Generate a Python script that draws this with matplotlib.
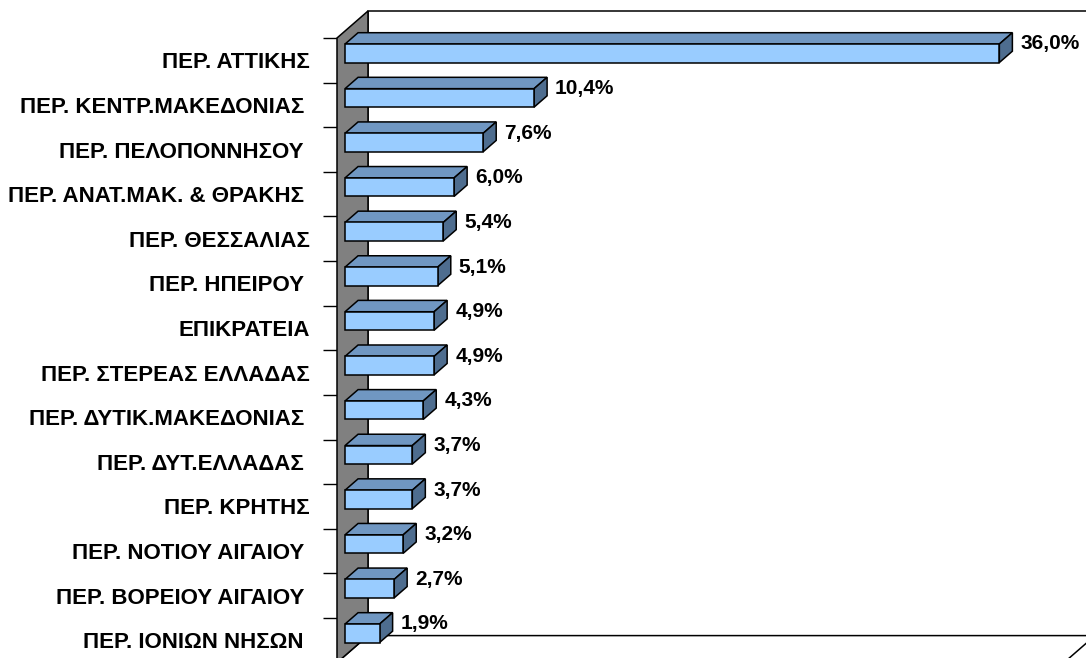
import matplotlib
matplotlib.use("Agg")
import matplotlib.pyplot as plt
import numpy as np
from matplotlib.patches import Polygon

# ===== Data =====
REGIONS = [
    "ΠΕΡ. ΑΤΤΙΚΗΣ",
    "ΠΕΡ. ΚΕΝΤΡ.ΜΑΚΕΔΟΝΙΑΣ ",
    "ΠΕΡ. ΠΕΛΟΠΟΝΝΗΣΟΥ ",
    "ΠΕΡ. ΑΝΑΤ.ΜΑΚ. & ΘΡΑΚΗΣ ",
    "ΠΕΡ. ΘΕΣΣΑΛΙΑΣ",
    "ΠΕΡ. ΗΠΕΙΡΟΥ ",
    "ΕΠΙΚΡΑΤΕΙΑ",
    "ΠΕΡ. ΣΤΕΡΕΑΣ ΕΛΛΑΔΑΣ",
    "ΠΕΡ. ΔΥΤΙΚ.ΜΑΚΕΔΟΝΙΑΣ ",
    "ΠΕΡ. ΔΥΤ.ΕΛΛΑΔΑΣ ",
    "ΠΕΡ. ΚΡΗΤΗΣ",
    "ΠΕΡ. ΝΟΤΙΟΥ ΑΙΓΑΙΟΥ ",
    "ΠΕΡ. ΒΟΡΕΙΟΥ ΑΙΓΑΙΟΥ ",
    "ΠΕΡ. ΙΟΝΙΩΝ ΝΗΣΩΝ ",
]
VALUES = [36.0, 10.4, 7.6, 6.0, 5.4, 5.1, 4.9, 4.9, 4.3, 3.7, 3.7, 3.2, 2.7, 1.9]
VALUE_LABELS = [f"{v:.1f}".replace(".", ",") + "%" for v in VALUES]
XMAX = 40

# ===== Style =====
FRONT = "#99CCFF"
TOP = "#7097C2"
SIDE = "#4E6D8F"
WALL = "#808080"

plt.rcParams["font.family"] = ["Liberation Sans", "DejaVu Sans"]

W, H = 1086, 658
fig = plt.figure(figsize=(W / 100, H / 100), dpi=100)

# front plane of the 3D box (pixels)
left, right, top, bottom = 337, 1064, 38, 662.6
ax = fig.add_axes([left / W, 1 - bottom / H, (right - left) / W, (bottom - top) / H])
n = len(VALUES)
ax.set_xlim(0, XMAX)
ax.set_ylim(n - 0.5, -0.5)
ax.patch.set_visible(False)
for s in ax.spines.values():
    s.set_visible(False)

# depth of the box in data units (31 px right, 27 px up)
px_x = (right - left) / XMAX
px_y = (bottom - top) / n
DX = 31 / px_x
DY = -27 / px_y

y0, y1 = -0.5, n - 0.5
LW = 1.1

# back wall
ax.add_patch(Polygon([(DX, y0 + DY), (XMAX + DX, y0 + DY), (XMAX + DX, y1 + DY), (DX, y1 + DY)],
                     closed=True, facecolor="white", edgecolor="black", lw=LW, clip_on=False, zorder=1))
# floor
ax.add_patch(Polygon([(0, y1), (DX, y1 + DY), (XMAX + DX, y1 + DY), (XMAX, y1)],
                     closed=True, facecolor="white", edgecolor="black", lw=LW, clip_on=False, zorder=1))
# left wall
ax.add_patch(Polygon([(0, y0), (DX, y0 + DY), (DX, y1 + DY), (0, y1)],
                     closed=True, facecolor=WALL, edgecolor="black", lw=LW, clip_on=False, zorder=2))

# bars: front face at depth fraction a, back at b
a, b = 0.26, 0.68
h = 18.5 / px_y
ddx, ddy = (b - a) * DX, (b - a) * DY
ys = np.arange(n) + a * DY
x0 = a * DX
ax.barh(ys, VALUES, left=x0, height=h, color=FRONT, edgecolor="black", lw=LW, zorder=4, clip_on=False)
for yc, v in zip(ys, VALUES):
    yt = yc - h / 2
    ax.add_patch(Polygon([(x0, yt), (x0 + v, yt), (x0 + v + ddx, yt + ddy), (x0 + ddx, yt + ddy)],
                         closed=True, facecolor=TOP, edgecolor="black", lw=LW, zorder=3, clip_on=False))
    ax.add_patch(Polygon([(x0 + v, yt), (x0 + v, yt + h), (x0 + v + ddx, yt + h + ddy), (x0 + v + ddx, yt + ddy)],
                         closed=True, facecolor=SIDE, edgecolor="black", lw=LW, zorder=3, clip_on=False))

for i, (v, lbl) in enumerate(zip(VALUES, VALUE_LABELS)):
    ax.annotate(lbl, xy=(x0 + v + ddx, i + b * DY), xytext=(8, -2), textcoords="offset pixels",
                ha="left", va="center", fontsize=15, fontweight="bold", annotation_clip=False)

# axis ticks: labels at category centres, tick marks between categories
ax.set_xticks([])
ax.set_yticks(np.arange(n))
ax.set_yticklabels(REGIONS, fontsize=16, fontweight="bold")
ax.tick_params(axis="y", which="major", length=0, pad=19.4)
ax.set_yticks(np.arange(n + 1) - 0.5, minor=True)
ax.tick_params(axis="y", which="minor", length=10, width=1, direction="out")

fig.savefig("out.png", dpi=100)
